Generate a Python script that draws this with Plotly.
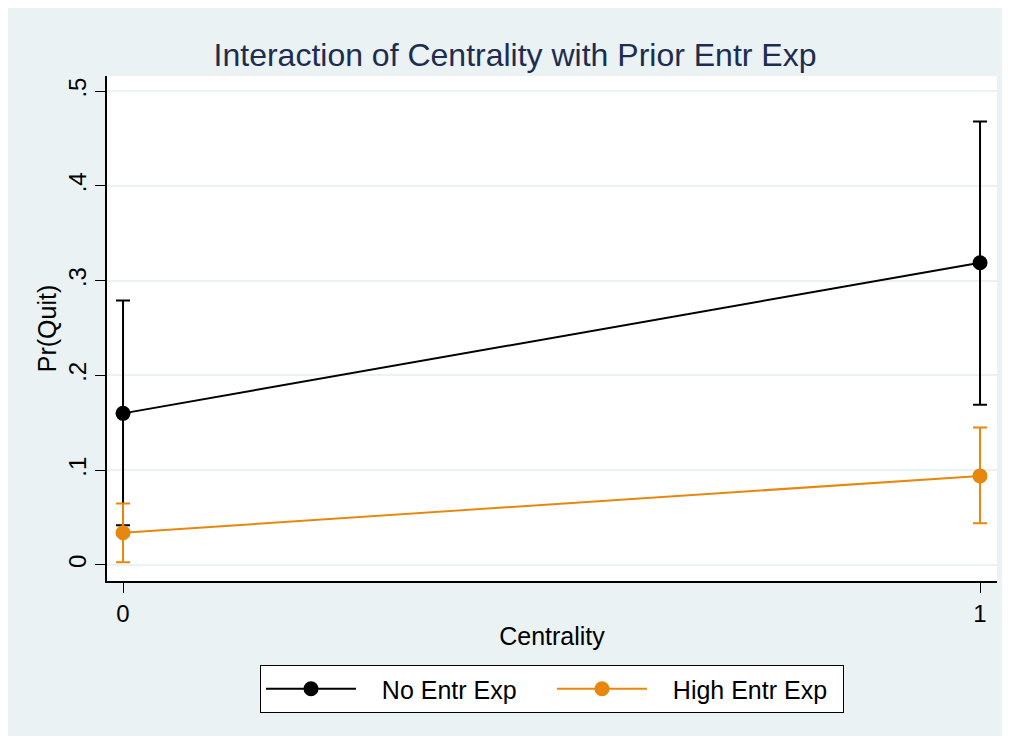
import plotly.graph_objects as go

centrality = [0, 1]
x_ticks = [0, 1]
x_tick_labels = ["0", "1"]
y_ticks = [0, 0.1, 0.2, 0.3, 0.4, 0.5]
y_tick_labels = ["0", ".1", ".2", ".3", ".4", ".5"]

no_exp = [0.160, 0.319]
no_exp_lo = [0.042, 0.169]
no_exp_hi = [0.279, 0.468]

high_exp = [0.034, 0.094]
high_exp_lo = [0.003, 0.044]
high_exp_hi = [0.065, 0.145]

BG = "#EAF2F3"
ORANGE = "#E8870E"
FONT = "Liberation Sans, Arial, sans-serif"

W, H = 997, 728
L, R, T, B = 99, 8, 68, 155
pw, ph = W - L - R, H - T - B

fig = go.Figure()

def add_series(name, y, lo, hi, color):
    fig.add_trace(go.Scatter(
        x=centrality, y=y, name="\u00a0\u00a0\u00a0" + name, mode="lines+markers",
        line=dict(color=color, width=2),
        marker=dict(color=color, size=15),
        error_y=dict(type="data", symmetric=False,
                     array=[h - v for h, v in zip(hi, y)],
                     arrayminus=[v - l for v, l in zip(y, lo)],
                     color=color, thickness=2, width=7),
    ))

add_series("No Entr Exp", no_exp, no_exp_lo, no_exp_hi, "black")
add_series("High Entr Exp", high_exp, high_exp_lo, high_exp_hi, ORANGE)

fig.update_layout(
    width=W, height=H,
    margin=dict(l=L, r=R, t=T, b=B),
    paper_bgcolor=BG, plot_bgcolor="white",
    font=dict(family=FONT, color="black", size=24),
    title=dict(text="Interaction of Centrality with Prior Entr Exp",
               font=dict(size=32, color="#1E2D4F", family=FONT),
               x=507 / W, xanchor="center", y=1 - 47 / H, yanchor="middle"),
    xaxis=dict(range=[-0.0187, 1.0198], tickvals=x_ticks, ticktext=x_tick_labels,
               showgrid=False, zeroline=False, showline=True, linecolor="black",
               linewidth=1.5, ticks="outside", ticklen=10, tickcolor="black",
               tickfont=dict(size=24),
               title=dict(text="Centrality", font=dict(size=25), standoff=2)),
    yaxis=dict(range=[-0.0169, 0.516], tickvals=y_ticks, ticktext=y_tick_labels,
               showgrid=True, gridcolor=BG, gridwidth=2, zeroline=False,
               showline=True, linecolor="black", linewidth=1.5,
               ticks="outside", ticklen=10, tickcolor="black", tickangle=-90,
               tickfont=dict(size=24),
               title=dict(text="Pr(Quit)", font=dict(size=25), standoff=0)),
    legend=dict(orientation="h", x=0.5, xanchor="center",
                y=(573 - 657) / ph, yanchor="top",
                bgcolor="white", bordercolor="black", borderwidth=1,
                font=dict(size=25), itemwidth=90, entrywidth=186),
    showlegend=True,
)

fig.write_html("out.html")
